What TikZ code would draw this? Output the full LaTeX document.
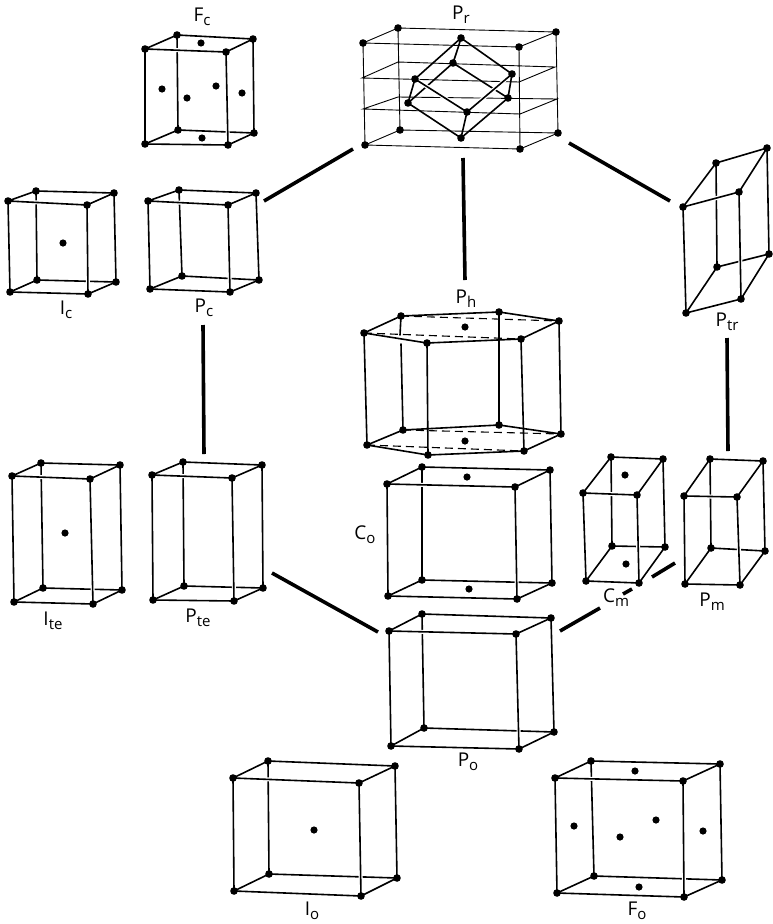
\documentclass[tikz,border=0pt]{standalone}
\usepackage{fontspec}
\setmainfont{Open Sans}
\tikzset{
  edgeline/.style={line width=1.6pt,black,line cap=round,line join=round},
  halo/.style={line width=4pt,white},
  thinline/.style={line width=0.9pt,black},
  strut/.style={line width=3.6pt,black},
  hexdash/.style={line width=1.1pt,black,dash pattern=on 8pt off 5pt},
  lab/.style={inner sep=0pt,font=\fontsize{19}{19}\selectfont}
}
\newcommand{\atom}[1]{\fill[black] (#1) circle (3.8pt);}
\newcommand{\face}[1]{\fill[black] (#1) circle (3.6pt);}
\newcommand{\lbl}[2]{#1{\fontsize{15}{15}\selectfont\raisebox{-4pt}{#2}}}
% name, FTL BTL BTR FTR FBL BBL BBR FBR
\newcommand{\cell}[9]{%
  \coordinate (#1a) at (#2); \coordinate (#1b) at (#3); \coordinate (#1c) at (#4); \coordinate (#1d) at (#5);
  \coordinate (#1e) at (#6); \coordinate (#1f) at (#7); \coordinate (#1g) at (#8); \coordinate (#1h) at (#9);
  \draw[edgeline] (#1b) -- (#1f) (#1f) -- (#1g) (#1f) -- (#1e);
  \draw[halo] (#1a) -- (#1d) -- (#1h);
  \draw[edgeline] (#1a) -- (#1b) -- (#1c) -- (#1d) -- (#1a) -- (#1e) -- (#1h) -- (#1d)
     (#1c) -- (#1g) -- (#1h);
  \atom{#1a}\atom{#1b}\atom{#1c}\atom{#1d}\atom{#1e}\atom{#1f}\atom{#1g}\atom{#1h}%
}
\begin{document}
\begin{tikzpicture}[x=1pt,y=-1pt]
\useasboundingbox (0,0) rectangle (772,924);
\fill[white] (0,0) rectangle (772,924);

% Fc
\cell{fc}{145,49}{177,35}{253,39}{226,52}{145,144}{178,130}{254,133}{228,145}
\face{201,43}\face{202,138}\face{162,89}\face{242,93}\face{187,98}\face{216,86}
\node[lab] (Lfc) at (202,17) {\lbl{F}{c}};

% Ic
\cell{ic}{8,201}{36,191}{114,193}{87,205}{10,292}{37,280}{116,282}{88,294}
\face{63,243}
\node[lab] (Lic) at (66,310) {\lbl{I}{c}};

% Pc
\cell{pc}{148,201}{179,190}{256,193}{228,205}{150,289}{182,276}{259,280}{230,292}
\node[lab] (Lpc) at (204,308) {\lbl{P}{c}};

% Ite
\cell{it}{12,476}{41,463}{120,465}{90,479}{14,602}{43,588}{122,590}{93,604}
\face{65,533}
\node[lab] (Lit) at (53,621) {\lbl{I}{te}};

% Pte
\cell{pt}{152,475}{183,462}{262,465}{232,478}{153,600}{184,586}{263,588}{234,601}
\node[lab] (Lpt) at (198,618) {\lbl{P}{te}};

% Ptr
\cell{tr}{683,207}{716,163}{767,148}{739,192}{686,313}{717,267}{769,254}{741,299}
\node[lab] (Ltr) at (727,322) {\lbl{P}{tr}};

% Cm
\cell{cm}{583,493}{611,457}{663,459}{637,495}{586,581}{612,546}{665,547}{639,583}
\face{625,475}\face{626,564}
\node[lab] (Lcm) at (616,598) {\lbl{C}{m}};

% Pm
\cell{pm}{684,496}{710,459}{763,461}{737,497}{685,584}{711,548}{765,551}{740,585}
\node[lab] (Lpm) at (712,602) {\lbl{P}{m}};

% Co
\cell{co}{387,484}{422,467}{550,470}{515,487}{388,596}{422,580}{552,583}{517,599}
\face{467,477}\face{469,589}
\node[lab] (Lco) at (365,535) {\lbl{C}{o}};

% Po
\cell{po}{389,631}{422,614}{551,618}{516,634}{391,746}{424,728}{554,732}{519,749}
\node[lab] (Lpo) at (468,762) {\lbl{P}{o}};

% Io
\cell{io}{233,778}{268,761}{395,766}{359,783}{234,891}{269,874}{397,878}{361,896}
\face{314,830}
\node[lab] (Lio) at (312,911) {\lbl{I}{o}};

% Fo
\cell{fo}{555,778}{591,761}{720,764}{683,781}{557,893}{594,876}{722,880}{684,897}
\face{635,771}\face{639,887}\face{574,826}\face{703,831}\face{620,837}\face{656,820}
\node[lab] (Lfo) at (637,911) {\lbl{F}{o}};

% Pr outer cell with thin layers
\coordinate (ra) at (363,43); \coordinate (rb) at (398,28); \coordinate (rc) at (556,32); \coordinate (rd) at (519,47);
\coordinate (re) at (365,145); \coordinate (rf) at (400,130); \coordinate (rg) at (558,133); \coordinate (rh) at (520,149);
\coordinate (r1a) at (362,78); \coordinate (r1b) at (398,62); \coordinate (r1c) at (555,67); \coordinate (r1d) at (519,82);
\coordinate (r2a) at (363,109); \coordinate (r2b) at (398,97); \coordinate (r2c) at (557,99); \coordinate (r2d) at (520,114);
\draw[thinline] (rb) -- (rf) (rf) -- (rg) (rf) -- (re)
  (ra) -- (rb) -- (rc) -- (rd) -- (ra) -- (re) -- (rh) -- (rd) (rc) -- (rg) -- (rh)
  (r1a) -- (r1b) -- (r1c) -- (r1d) -- cycle
  (r2a) -- (r2b) -- (r2c) -- (r2d) -- cycle;
\atom{ra}\atom{rb}\atom{rc}\atom{rd}\atom{re}\atom{rf}\atom{rg}\atom{rh}
% rhombohedron
\coordinate (t) at (461,38); \coordinate (lu) at (415,79); \coordinate (ri) at (512,74); \coordinate (in) at (453,63);
\coordinate (ll) at (408,103); \coordinate (lr) at (508,98); \coordinate (fr) at (467,112); \coordinate (bo) at (461,138);
\draw[edgeline] (in) -- (ll) (in) -- (lr);
\draw[white,line width=4pt] (lu) -- (fr) (ri) -- (fr);
\draw[edgeline] (t) -- (lu) -- (fr) -- (ri) -- (t) (t) .. controls (458,48) .. (in)
  (lu) -- (ll) -- (bo) -- (fr) (ri) -- (lr) -- (bo);
\atom{t}\atom{lu}\atom{ri}\atom{in}\atom{ll}\atom{lr}\atom{fr}\atom{bo}
\node[lab] (Lr) at (461,15) {\lbl{P}{r}};

% Ph
\coordinate (ha) at (401,316); \coordinate (hb) at (499,312); \coordinate (hc) at (559,321); \coordinate (hd) at (521,339);
\coordinate (he) at (427,343); \coordinate (hf) at (364,333);
\coordinate (ia) at (403,430); \coordinate (ib) at (499,425); \coordinate (ic2) at (561,434); \coordinate (id) at (524,451);
\coordinate (ie) at (428,455); \coordinate (if) at (367,445);
\coordinate (hg) at (400,335); \coordinate (hj) at (401,344);
\draw[edgeline] (ha) -- (hg) (hj) -- (ia) (hb) -- (ib);
\draw[hexdash] (ha) -- (hc) (hf) -- (hd) (ia) -- (ic2) (if) -- (id);
\draw[edgeline] (hf) -- (ha) -- (hb) -- (hc) -- (hd) -- (he) -- (hf)
  (if) -- (ia) -- (ib) -- (ic2) -- (id) -- (ie) -- (if)
  (hf) -- (if) (he) -- (ie) (hd) -- (id) (hc) -- (ic2);
\atom{ha}\atom{hb}\atom{hc}\atom{hd}\atom{he}\atom{hf}\atom{ia}\atom{ib}\atom{ic2}\atom{id}\atom{ie}\atom{if}
\face{465,327}\face{465,441}
\node[lab] (Lh) at (466,299) {\lbl{P}{h}};

% connectors
\coordinate (s1) at (264,201); \coordinate (s2) at (353,149);
\coordinate (s3) at (463,158); \coordinate (s4) at (465,280);
\coordinate (s5) at (569,143); \coordinate (s6) at (670,201);
\coordinate (s7) at (203,325); \coordinate (s8) at (204,454);
\coordinate (s9) at (727,338); \coordinate (s10) at (728,451);
\coordinate (s11) at (272,573); \coordinate (s12) at (378,632);
\coordinate (s13) at (675,563); \coordinate (s14) at (652,577);
\coordinate (s15) at (632,589); \coordinate (s16) at (623,594);
\coordinate (s17) at (600,608); \coordinate (s18) at (560,631);
\draw[strut] (s1) -- (s2) (s3) -- (s4) (s5) -- (s6) (s7) -- (s8) (s9) -- (s10)
  (s11) -- (s12) (s13) -- (s14) (s15) -- (s16) (s17) -- (s18);
\end{tikzpicture}
\end{document}
